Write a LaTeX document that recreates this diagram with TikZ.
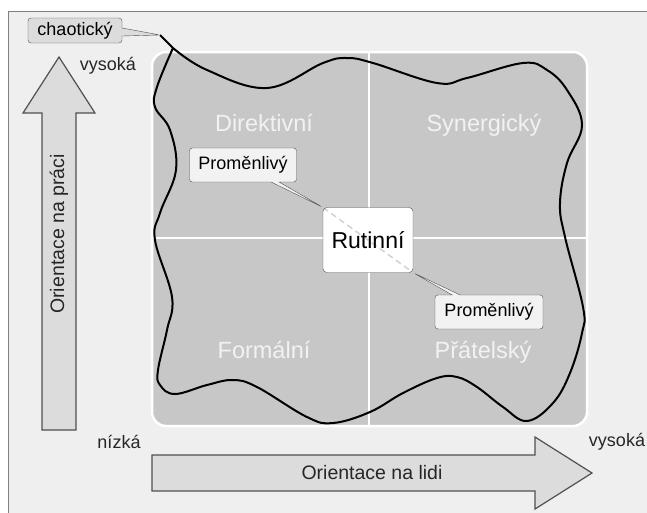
\documentclass[tikz,border=0pt]{standalone}
\usepackage{fontspec}
\setmainfont{Liberation Sans}
\usepackage{tikz}
\usetikzlibrary{shapes.callouts}
\definecolor{bgrey}{HTML}{EFEFEF}
\definecolor{qgrey}{HTML}{C7C7C7}
\definecolor{agrey}{HTML}{DCDCDC}
\definecolor{cgrey}{HTML}{F2F2F2}
\definecolor{dgrey}{HTML}{505050}

\begin{document}
\begin{tikzpicture}[x=1pt,y=-1pt,
		bigarrow/.style={draw=dgrey,fill=agrey,line width=1.2pt,line join=miter},
		callbox/.style={rectangle callout,draw=dgrey,fill=cgrey,rounded corners=3pt,
			callout pointer width=8pt,inner sep=0pt,font=\fontsize{18}{19}\selectfont}]
	\useasboundingbox (0,0) rectangle (647,512);
	\clip (0,0) rectangle (647,512);
	\fill[white] (0,0) rectangle (647,512);
	\draw[gray,fill=bgrey] (8,11) rectangle (670,540);
	
	% quadranty
	\draw[white,line width=2.5pt,fill=qgrey,rounded corners=14pt] (152,52) rectangle (587,426);
	\draw[white,line width=2.5pt] (369,52) -- (369,426);
	\draw[white,line width=2.5pt] (152,238) -- (587,238);
	
	\begin{scope}[every node/.style={anchor=base,text=cgrey,font=\fontsize{23.5}{24}\selectfont}]
		\node (dir) at (264,131) {Direktivní};
		\node (syn) at (484,131) {Synergický};
		\node (for) at (264,358) {Formální};
		\node (pra) at (483,358) {Přátelský};
	\end{scope}
	
	% chaos
	\coordinate (J) at (173,48);
	\coordinate (tip) at (160,35);
	\draw[line width=2pt,line join=round] plot[smooth,tension=0.65] coordinates {
		(173,48) (207,70) (267,88) (323,63) (347,58) (373,63) (437,83) (467,78)
		(523,63) (547,70) (567,90) (582,125) (567,163) (560,203) (565,237)
		(583,307) (582,333) (570,373) (553,403) (527,421) (503,407) (477,387)
		(457,377) (437,378) (403,393) (370,412) (333,423) (307,417) (257,387)
		(233,380) (207,385) (175,394) (160,385) (158,370) (167,330) (172,297)
		(155,240) (160,213) (176,170) (170,130) (155,107) (157,87) (173,48)};
	\draw[line width=2pt] (J) -- (tip);
	
	% styly
	\node[draw=dgrey,fill=white,rounded corners=4pt,minimum width=90pt,minimum height=65pt,
		font=\fontsize{23}{24}\selectfont,
		path picture={\draw[qgrey!80!white,line width=1.5pt,dash pattern=on 6pt off 4pt]
			(path picture bounding box.north west) -- (path picture bounding box.south east);}]
		(rut) at (368,240) {Rutinní};
	
	\node[callbox,minimum width=107pt,minimum height=34pt,callout absolute pointer={(rut.north west)}]
		(pro1) at (243,165) {Proměnlivý};
	\node[callbox,minimum width=108pt,minimum height=34pt,callout absolute pointer={(rut.south east)}]
		(pro2) at (489,312) {Proměnlivý};
	\node[callbox,fill=agrey,minimum width=94pt,minimum height=25pt,callout absolute pointer={(tip)}]
		(chao) at (75,30.5) {chaotický};
	
	% osy
	\draw[bigarrow] (42,430) -- (42,113) -- (23,113) -- (59,57) -- (95,113) -- (76,113) -- (76,430) -- cycle;
	\draw[bigarrow] (152,455) -- (535,455) -- (535,437) -- (592,473) -- (535,509) -- (535,491) -- (152,491) -- cycle;
	
	\begin{scope}[every node/.style={text=black!85,font=\fontsize{19.5}{20}\selectfont}]
		\node[rotate=90] (opr) at (59,234) {Orientace na práci};
		\node (oli) at (372,473) {Orientace na lidi};
	\end{scope}
	\begin{scope}[every node/.style={text=black!85,font=\fontsize{18}{19}\selectfont}]
		\node (vys1) at (108,66) {vysoká};
		\node (niz) at (119,442) {nízká};
		\node (vys2) at (617,442) {vysoká};
	\end{scope}
\end{tikzpicture}
\end{document}
